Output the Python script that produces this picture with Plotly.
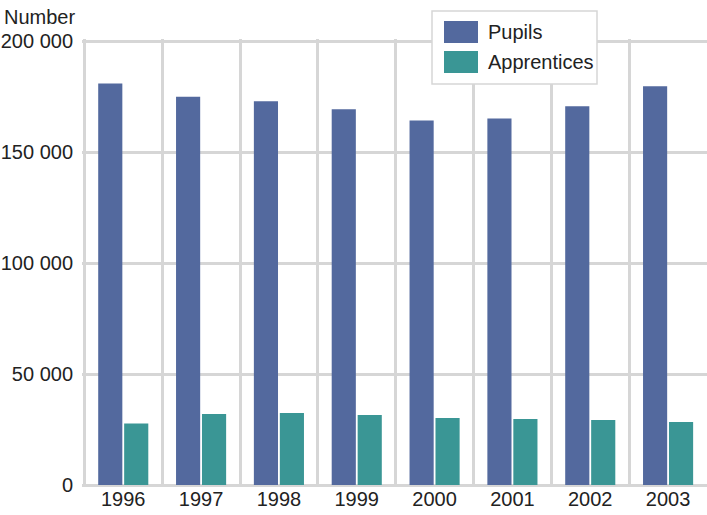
import plotly.graph_objects as go

# Pupils and apprentices per year
years = ["1996", "1997", "1998", "1999", "2000", "2001", "2002", "2003"]
pupils = [181000, 175000, 173000, 169300, 164300, 165200, 170700, 179700]
apprentices = [27700, 32000, 32500, 31600, 30200, 29800, 29300, 28400]

y_ticks = [0, 50000, 100000, 150000, 200000]
y_tick_labels = ["0", "50 000", "100 000", "150 000", "200 000"]

PUPIL_COLOR = "#53699e"
APPR_COLOR = "#3a9695"
GRID = "#d6d6d6"
FONT = "Liberation Sans, Arial, sans-serif"

W, H = 707, 515
L, R, T, B = 82, 0, 39, 30
PW, PH = W - L - R, H - T - B


def px_x(x):
    return (x - L) / PW


def px_y(y):
    return (H - B - y) / PH


fig = go.Figure()
fig.add_trace(go.Bar(x=years, y=pupils, name="Pupils",
                     marker=dict(color=PUPIL_COLOR, line=dict(width=0))))
fig.add_trace(go.Bar(x=years, y=apprentices, name="Apprentices",
                     marker=dict(color=APPR_COLOR, line=dict(width=0))))

# Legend box drawn by hand so the swatches can be large
shapes = [
    dict(type="rect", xref="paper", yref="paper",
         x0=px_x(432), x1=px_x(597), y0=px_y(84), y1=px_y(11),
         fillcolor="white", line=dict(color=GRID, width=1.5), layer="above"),
]
annotations = []
for name, color, top in [("Pupils", PUPIL_COLOR, 21), ("Apprentices", APPR_COLOR, 51)]:
    shapes.append(dict(type="rect", xref="paper", yref="paper",
                       x0=px_x(444), x1=px_x(478), y0=px_y(top + 22), y1=px_y(top),
                       fillcolor=color, line=dict(width=0), layer="above"))
    annotations.append(dict(text=name, xref="paper", yref="paper",
                            x=px_x(486), y=px_y(top + 11), xanchor="left", yanchor="middle",
                            showarrow=False, font=dict(family=FONT, size=20, color="#222")))

annotations.append(dict(text="Number", xref="paper", yref="paper",
                        x=px_x(2), y=px_y(17), xanchor="left", yanchor="middle",
                        showarrow=False, font=dict(family=FONT, size=20, color="#222")))

fig.update_layout(
    width=W, height=H,
    margin=dict(l=L, r=R, t=T, b=B),
    paper_bgcolor="white", plot_bgcolor="white",
    barmode="group", bargap=0.333, bargroupgap=0.07,
    showlegend=False,
    shapes=shapes, annotations=annotations,
    font=dict(family=FONT, size=20, color="#222"),
    xaxis=dict(type="category", tickson="boundaries", showgrid=True,
               range=[-0.53, 7.5],
               gridcolor=GRID, gridwidth=3, ticks="", showline=False,
               tickfont=dict(size=20), ticklabelstandoff=0),
    yaxis=dict(range=[0, 201000], tickvals=y_ticks, ticktext=y_tick_labels,
               showgrid=True, gridcolor=GRID, gridwidth=3, zeroline=True,
               zerolinecolor=GRID, zerolinewidth=3, ticks="", showline=False,
               tickfont=dict(size=20), ticklabelstandoff=8),
)

fig.write_html("out.html")
